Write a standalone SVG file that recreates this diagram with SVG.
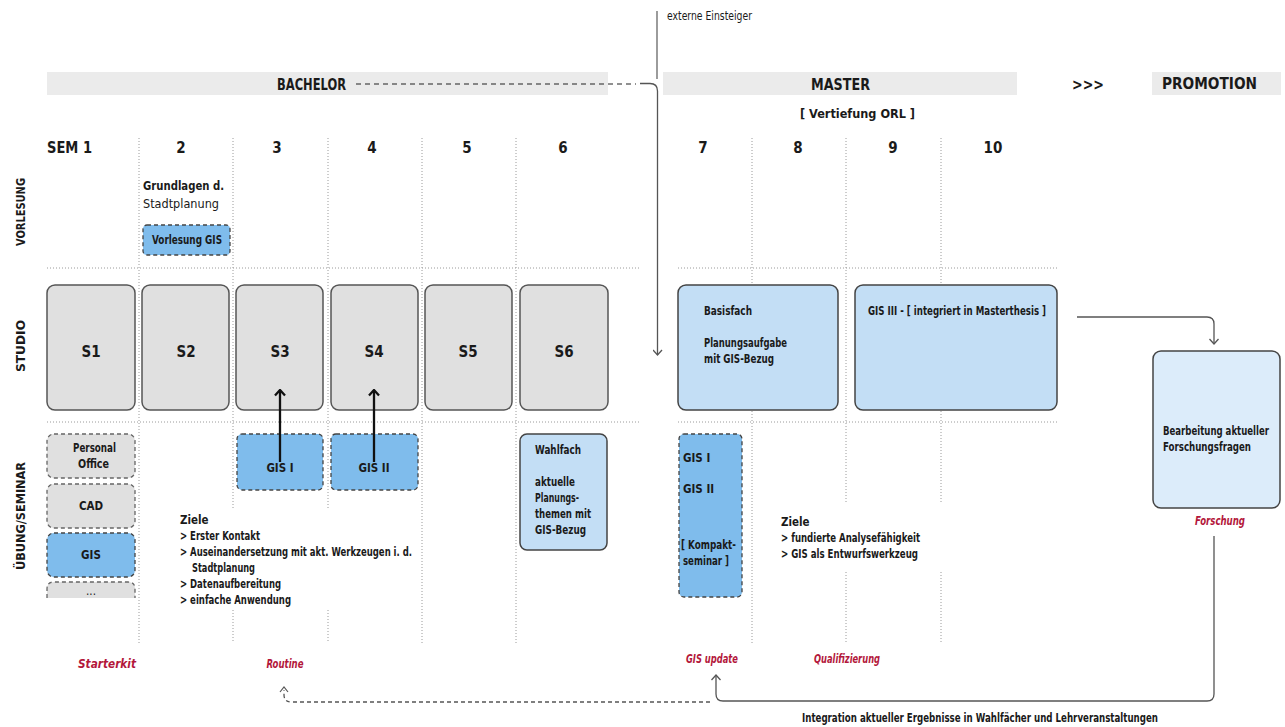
<svg xmlns="http://www.w3.org/2000/svg" width="1285" height="727" viewBox="0 0 1285 727">
<defs>
<style>
text{font-family:"DejaVu Sans Condensed","DejaVu Sans","Liberation Sans",sans-serif;font-stretch:condensed;fill:#1a1a1a}
.hd{font-size:15px;font-weight:bold}
.sem{font-size:15px;font-weight:bold;text-anchor:middle}
.row{font-size:13px;font-weight:bold;text-anchor:middle}
.t{font-size:11.5px}
.tb{font-size:11.5px;font-weight:bold}
.red{font-size:11.5px;font-weight:bold;font-style:italic;fill:#b3173b;text-anchor:middle}
.bar{fill:#ebebeb}
.grid{stroke:#9a9a9a;stroke-width:1;stroke-dasharray:1 2;fill:none}
.studio{fill:#e0e0e0;stroke:#555;stroke-width:1.5}
.dgray{fill:#e0e0e0;stroke:#666;stroke-width:1.3;stroke-dasharray:4 3}
.dblue{fill:#7fbcec;stroke:#444;stroke-width:1.3;stroke-dasharray:4 3}
.lblue{fill:#c3def5;stroke:#444;stroke-width:1.5}
.xblue{fill:#dcecfa;stroke:#444;stroke-width:1.5}
.con{fill:none;stroke:#555;stroke-width:1.3}
.big{font-size:15px;font-weight:bold;text-anchor:middle}
</style>
<marker id="open" viewBox="0 0 10 10" refX="9" refY="5" markerWidth="10" markerHeight="10" orient="auto" markerUnits="userSpaceOnUse">
<path d="M4,0.5 L9,5 L4,9.5" fill="none" stroke="#555" stroke-width="1.3"/>
</marker>
<marker id="thick" viewBox="0 0 12 12" refX="10.5" refY="6" markerWidth="12" markerHeight="12" orient="auto" markerUnits="userSpaceOnUse">
<path d="M5,1 L10.5,6 L5,11" fill="none" stroke="#111" stroke-width="2.3"/>
</marker>
</defs>

<g id="header">
<rect class="bar" x="47" y="72" width="561" height="23"/>
<rect class="bar" x="663" y="72" width="354" height="23"/>
<rect class="bar" x="1152" y="72" width="129" height="23"/>
<text class="hd" x="277" y="90" textLength="69" lengthAdjust="spacingAndGlyphs">BACHELOR</text>
<text class="hd" x="811" y="90" textLength="59" lengthAdjust="spacingAndGlyphs">MASTER</text>
<text class="hd" x="1072" y="90" textLength="32" lengthAdjust="spacingAndGlyphs">&gt;&gt;&gt;</text>
<text class="hd" x="1162" y="89" textLength="95" lengthAdjust="spacingAndGlyphs">PROMOTION</text>
<text class="tb" x="800" y="118" font-size="13" textLength="115" lengthAdjust="spacingAndGlyphs">[   Vertiefung ORL   ]</text>
<text class="t" x="667" y="20" textLength="85" lengthAdjust="spacingAndGlyphs">externe Einsteiger</text>
</g>

<g id="semesters">
<text class="hd" x="47" y="153" textLength="45" lengthAdjust="spacingAndGlyphs">SEM  1</text>
<text class="sem" x="181" y="153">2</text>
<text class="sem" x="277" y="153">3</text>
<text class="sem" x="372" y="153">4</text>
<text class="sem" x="467" y="153">5</text>
<text class="sem" x="563" y="153">6</text>
<text class="sem" x="703" y="153">7</text>
<text class="sem" x="798" y="153">8</text>
<text class="sem" x="893" y="153">9</text>
<text class="sem" x="993" y="153">10</text>
</g>

<g id="rowlabels">
<text class="row" transform="translate(25,212) rotate(-90)" textLength="68" lengthAdjust="spacingAndGlyphs">VORLESUNG</text>
<text class="row" transform="translate(25,346) rotate(-90)" textLength="52" lengthAdjust="spacingAndGlyphs">STUDIO</text>
<text class="row" transform="translate(25,516) rotate(-90)" textLength="108" lengthAdjust="spacingAndGlyphs">ÜBUNG/SEMINAR</text>
</g>

<g id="grid">
<path class="grid" d="M47,268 H640 M678,268 H1058 M47,422 H640 M678,422 H1058"/>
<path class="grid" d="M139,138 V643 M233,138 V508 M233,610 V643 M328,138 V508 M328,610 V643 M422,138 V643 M516,138 V643"/>
<path class="grid" d="M752,138 V643 M846,138 V502 M846,572 V643 M941,138 V502 M941,572 V643"/>
</g>

<g id="vorlesung">
<text font-size="13" font-weight="600" x="143" y="190" textLength="81" lengthAdjust="spacingAndGlyphs">Grundlagen d.</text>
<text font-size="13" x="143" y="208" textLength="76" lengthAdjust="spacingAndGlyphs">Stadtplanung</text>
<g id="vorlesung-gis"><rect class="dblue" x="143" y="225" width="87" height="30" rx="4"/><text class="tb" x="152" y="244" textLength="70" lengthAdjust="spacingAndGlyphs">Vorlesung GIS</text></g>
</g>

<g id="studio">
<g id="s1"><rect class="studio" x="47" y="285" width="88" height="125" rx="8"/><text class="big" x="91" y="357">S1</text></g>
<g id="s2"><rect class="studio" x="142" y="285" width="87" height="125" rx="8"/><text class="big" x="186" y="357">S2</text></g>
<g id="s3"><rect class="studio" x="236" y="285" width="87" height="125" rx="8"/><text class="big" x="280" y="357">S3</text></g>
<g id="s4"><rect class="studio" x="331" y="285" width="87" height="125" rx="8"/><text class="big" x="374" y="357">S4</text></g>
<g id="s5"><rect class="studio" x="425" y="285" width="87" height="125" rx="8"/><text class="big" x="468" y="357">S5</text></g>
<g id="s6"><rect class="studio" x="520" y="285" width="88" height="125" rx="8"/><text class="big" x="564" y="357">S6</text></g>
<g id="basisfach"><rect class="lblue" x="678" y="285" width="160" height="125" rx="8"/>
<text class="tb" x="704" y="315" textLength="48" lengthAdjust="spacingAndGlyphs">Basisfach</text>
<text class="tb" x="704" y="347" textLength="83" lengthAdjust="spacingAndGlyphs">Planungsaufgabe</text>
<text class="tb" x="704" y="363" textLength="70" lengthAdjust="spacingAndGlyphs">mit GIS-Bezug</text></g>
<g id="gis3"><rect class="lblue" x="855" y="285" width="202" height="125" rx="8"/>
<text class="tb" x="868" y="315" textLength="178" lengthAdjust="spacingAndGlyphs">GIS III - [ integriert in Masterthesis ]</text></g>
<g id="forschungsbox"><rect class="xblue" x="1153" y="351" width="127" height="157" rx="8"/>
<text class="tb" x="1163" y="435" font-size="9.8" textLength="106" lengthAdjust="spacingAndGlyphs">Bearbeitung aktueller</text>
<text class="tb" x="1163" y="451" font-size="9.8" textLength="88" lengthAdjust="spacingAndGlyphs">Forschungsfragen</text></g>
</g>

<g id="uebung">
<g id="personal-office"><rect class="dgray" x="47" y="434" width="88" height="44" rx="7"/><text class="tb" x="73" y="452" textLength="43" lengthAdjust="spacingAndGlyphs">Personal</text><text class="tb" x="78" y="468" textLength="31" lengthAdjust="spacingAndGlyphs">Office</text></g>
<g id="cad"><rect class="dgray" x="47" y="484" width="88" height="44" rx="7"/><text class="tb" x="91" y="510" text-anchor="middle">CAD</text></g>
<g id="gis"><rect class="dblue" x="47" y="533" width="88" height="44" rx="7"/><text class="tb" x="91" y="559" text-anchor="middle">GIS</text></g>
<g id="more"><path d="M47,598 V589 Q47,582 54,582 H128 Q135,582 135,589 V598" fill="#e0e0e0" stroke="#666" stroke-width="1.3" stroke-dasharray="4 3"/><text class="t" x="91" y="595" text-anchor="middle" font-size="8">...</text></g>
<g id="gis1"><rect class="dblue" x="237" y="434" width="86" height="56" rx="5"/><text class="tb" x="280" y="472" text-anchor="middle">GIS I</text></g>
<g id="gis2"><rect class="dblue" x="331" y="434" width="87" height="56" rx="5"/><text class="tb" x="374" y="472" text-anchor="middle">GIS II</text></g>
<g id="wahlfach"><rect class="lblue" x="520" y="434" width="87" height="116" rx="7"/>
<text class="tb" x="535" y="454" textLength="46" lengthAdjust="spacingAndGlyphs">Wahlfach</text>
<text class="tb" x="535" y="486" textLength="40" lengthAdjust="spacingAndGlyphs">aktuelle</text>
<text class="tb" x="535" y="502" textLength="44" lengthAdjust="spacingAndGlyphs">Planungs-</text>
<text class="tb" x="535" y="518" textLength="56" lengthAdjust="spacingAndGlyphs">themen mit</text>
<text class="tb" x="535" y="534" textLength="51" lengthAdjust="spacingAndGlyphs">GIS-Bezug</text></g>
<g id="kompakt"><rect class="dblue" x="679" y="434" width="63" height="163" rx="5"/>
<text class="tb" x="683" y="462">GIS I</text>
<text class="tb" x="683" y="493">GIS II</text>
<text class="tb" x="681" y="549" textLength="55" lengthAdjust="spacingAndGlyphs">[ Kompakt-</text>
<text class="tb" x="683" y="565" textLength="46" lengthAdjust="spacingAndGlyphs">seminar ]</text></g>
<g id="ziele1">
<text class="tb" x="180" y="524">Ziele</text>
<text class="tb" x="180" y="540" textLength="80" lengthAdjust="spacingAndGlyphs">&gt; Erster Kontakt</text>
<text class="tb" x="180" y="556" textLength="232" lengthAdjust="spacingAndGlyphs">&gt; Auseinandersetzung mit akt. Werkzeugen i. d.</text>
<text class="tb" x="192" y="572" textLength="63" lengthAdjust="spacingAndGlyphs">Stadtplanung</text>
<text class="tb" x="180" y="588" textLength="101" lengthAdjust="spacingAndGlyphs">&gt; Datenaufbereitung</text>
<text class="tb" x="180" y="604" textLength="111" lengthAdjust="spacingAndGlyphs">&gt; einfache Anwendung</text>
</g>
<g id="ziele2">
<text class="tb" x="781" y="526">Ziele</text>
<text class="tb" x="781" y="542" textLength="139" lengthAdjust="spacingAndGlyphs">&gt; fundierte Analysefähigkeit</text>
<text class="tb" x="781" y="558" textLength="137" lengthAdjust="spacingAndGlyphs">&gt; GIS als Entwurfswerkzeug</text>
</g>
</g>

<g id="labels">
<text class="red" x="107" y="668" textLength="58" lengthAdjust="spacingAndGlyphs">Starterkit</text>
<text class="red" x="285" y="668" textLength="37" lengthAdjust="spacingAndGlyphs">Routine</text>
<text class="red" x="712" y="663" textLength="52" lengthAdjust="spacingAndGlyphs">GIS update</text>
<text class="red" x="847" y="663" textLength="66" lengthAdjust="spacingAndGlyphs">Qualifizierung</text>
<text class="red" x="1220" y="525" textLength="50" lengthAdjust="spacingAndGlyphs">Forschung</text>
<text class="tb" x="802" y="722" textLength="356" lengthAdjust="spacingAndGlyphs">Integration  aktueller Ergebnisse in Wahlfächer und Lehrveranstaltungen</text>
</g>

<g id="connectors">
<line x1="657" y1="11" x2="657" y2="79" stroke="#666" stroke-width="1.3"/>
<line x1="356" y1="84" x2="636" y2="84" stroke="#222" stroke-width="1.2" stroke-dasharray="5 4"/>
<path class="con" d="M640,83.5 H650 Q657.5,83.5 657.5,91 V355" marker-end="url(#open)"/>
<path class="con" d="M1077,317 H1207 Q1214,317 1214,324 V344" marker-end="url(#open)"/>
<path class="con" stroke="#333" stroke-width="1.5" d="M1214,536 V694 Q1214,701 1207,701 H723 Q716,701 716,694 V675" marker-end="url(#open)"/>
<path fill="none" stroke="#555" stroke-width="1.3" stroke-dasharray="4 3" d="M710,702 H292 Q284,702 284,695 V690"/>
<path d="M280,692 L284,687 L288,692" fill="none" stroke="#555" stroke-width="1.2"/>
<line x1="280" y1="462" x2="280" y2="390" stroke="#111" stroke-width="2.3" marker-end="url(#thick)"/>
<line x1="374" y1="462" x2="374" y2="390" stroke="#111" stroke-width="2.3" marker-end="url(#thick)"/>
</g>
</svg>
